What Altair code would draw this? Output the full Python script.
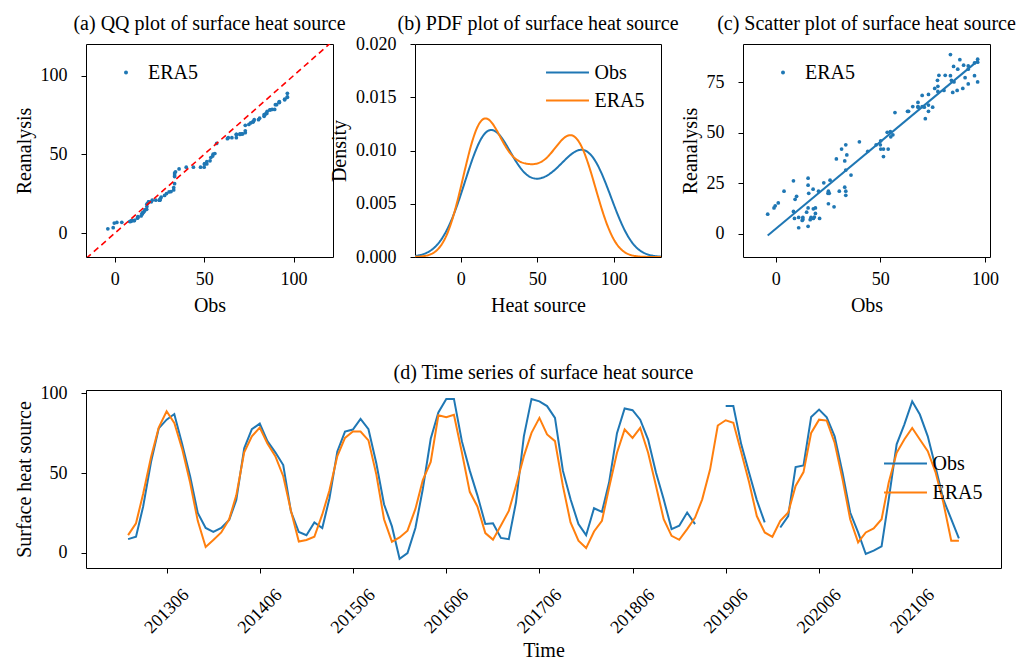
import altair as alt
import numpy as np
import pandas as pd

FONT = "Liberation Serif"
BLUE = "#1f77b4"
ORANGE = "#ff7f0e"
SERIES = ["Obs", "ERA5"]
COLORS = [BLUE, ORANGE]

START_MONTH = "2013-01-01"
OBS = [8.5, 10, 29, 57, 78, 83.5, 87, 68, 48, 25, 15.5, 13,
       15.5, 20.5, 33, 65.5, 77.5, 81, 70, 63, 55, 26, 13, 11,
       19, 15.5, 34, 63.5, 76, 77.3, 84, 77.5, 56, 30.4, 16.5, -3.8,
       -0.2, 15.5, 40, 71.5, 88, 96.5, 96.5, 70, 51.5, 36, 18, 18.5,
       9.3, 8.5, 31.5, 73, 96.5, 95, 92, 84.6, 51.5, 33.5, 18, 11,
       27.9, 25.6, 44, 75, 90.5, 89.4, 83.5, 71, 50.2, 33.5, 14.8, 16.9,
       25.2, 17.9, None, None, None, 92, 92, 68, 50, 33, 19, None,
       15.8, 23, 53.75, 54.8, 85.2, 89.8, 85, 73, 50.2, 25.2, 12.7, -0.8,
       1.25, 4, 33.5, 68, 80.4, 95, 86.7, 73, 53.3, 33.5, 21, 9]
ERA5 = [11, 18.5, 37, 60, 78.5, 88.75, 81.5, 65, 44, 20, 3.6, 8,
        12.7, 21, 36, 63, 73, 78.5, 68.5, 60.6, 48, 26.5, 7, 8,
        10, 24, 39, 60.6, 72, 76, 76, 70.5, 49, 21, 6.9, 9.6,
        13.8, 27.5, 45.5, 57, 86.2, 85, 86.5, 63, 38.2, 29, 12.3, 8.2,
        17, 26.2, 41.9, 60.6, 75.2, 84.6, 74.2, 70, 41.9, 19, 7.5, 2.9,
        13.3, 20, 40.8, 62.7, 77.3, 72, 78.3, 62.7, 41.9, 21, 10.6, 8.1,
        14.8, 22, 33.5, 52.3, 79.8, 83.1, 81.5, 63, 44, 23, 12.7, 10,
        20, 25.2, 41.9, 50.6, 75.2, 83.5, 82.9, 69, 46, 21, 6.5, 12.7,
        15.2, 21, 44, 62.7, 71, 78.3, 71, 63.75, 50.2, 31.5, 7.5, 7.5]
TICK_YEARS = list(range(2013, 2022))
DIAG_ENDS = [-20, 125]

# ---- derived tables ----
dates = pd.date_range(START_MONTH, periods=len(OBS), freq="MS")
ts = pd.DataFrame({"date": dates,
                   "Obs": pd.to_numeric(pd.Series(OBS), errors="coerce"),
                   "ERA5": pd.to_numeric(pd.Series(ERA5), errors="coerce")})
long = ts.melt("date", var_name="series", value_name="value")
pairs = ts.dropna().rename(columns={"Obs": "obs", "ERA5": "rea"})
pairs["series"] = "ERA5"
qq = pd.DataFrame({"obs_q": np.sort(pairs["obs"].values),
                   "rea_q": np.sort(pairs["rea"].values),
                   "series": "ERA5"})
diag = pd.DataFrame({"v": DIAG_ENDS})


def point_legend():
    return alt.Legend(orient="none", legendX=30, legendY=18.5, title=None,
                      symbolType="circle", symbolSize=16, labelOffset=12,
                      symbolStrokeWidth=0, padding=0)


def line_legend(x, y, rowpad):
    return alt.Legend(orient="none", legendX=x, legendY=y, title=None,
                      symbolType="M-3,0H3", symbolSize=205, symbolStrokeWidth=2,
                      labelOffset=17, rowPadding=rowpad, padding=0)


def ptitle(text, off):
    return alt.TitleParams(text, baseline="alphabetic", offset=off)


# ---- (a) QQ plot ----
qa = alt.Chart(qq).mark_circle(size=14, opacity=1).encode(
    x=alt.X("obs_q:Q", title="Obs",
            scale=alt.Scale(domain=[-16, 122], nice=False, zero=False),
            axis=alt.Axis(values=[0, 50, 100])),
    y=alt.Y("rea_q:Q", title="Reanalysis",
            scale=alt.Scale(domain=[-15, 120], nice=False, zero=False),
            axis=alt.Axis(values=[0, 50, 100])),
    color=alt.Color("series:N", scale=alt.Scale(domain=["ERA5"], range=[BLUE]),
                    legend=point_legend()),
)
qd = alt.Chart(diag).mark_line(color="red", strokeDash=[6, 4], strokeWidth=1.6,
                               clip=True).encode(x="v:Q", y="v:Q")
panel_a = alt.layer(qa, qd).properties(
    width=247, height=213, title=ptitle("(a) QQ plot of surface heat source", -6))

# ---- (b) PDF plot ----
dens_layers = []
for i, s in enumerate(SERIES):
    vals = ts[s].dropna().values
    bw = float(np.std(vals, ddof=1) * len(vals) ** (-0.2))
    enc = dict(
        x=alt.X("value:Q", title="Heat source",
                scale=alt.Scale(domain=[-30, 131], nice=False, zero=False),
                axis=alt.Axis(values=[0, 50, 100])),
        y=alt.Y("density:Q", title="Density",
                scale=alt.Scale(domain=[0, 0.02], nice=False),
                axis=alt.Axis(values=[0, 0.005, 0.01, 0.015, 0.02], format=".3f")),
        color=alt.Color("series:N", scale=alt.Scale(domain=SERIES, range=COLORS),
                        legend=line_legend(142.5, 18.5, 8)),
    )
    layer = alt.Chart(long).transform_filter(
        f"datum.series == '{s}' && isValid(datum.value)"
    ).transform_density(
        "value", groupby=["series"], as_=["value", "density"],
        bandwidth=bw, extent=[-30, 131], steps=300
    ).mark_line(strokeWidth=2, clip=True).encode(**enc)
    dens_layers.append(layer)
panel_b = alt.layer(*dens_layers).properties(
    width=246, height=213, title=ptitle("(b) PDF plot of surface heat source", -15))

# ---- (c) Scatter plot ----
sx = alt.X("obs:Q", title="Obs",
           scale=alt.Scale(domain=[-15.6, 102.4], nice=False, zero=False),
           axis=alt.Axis(values=[0, 50, 100]))
sy = alt.Y("rea:Q", title="Reanalysis",
           scale=alt.Scale(domain=[-11.6, 94], nice=False, zero=False),
           axis=alt.Axis(values=[0, 25, 50, 75]))
sc = alt.Chart(pairs).mark_circle(size=14, opacity=1).encode(
    x=sx, y=sy,
    color=alt.Color("series:N", scale=alt.Scale(domain=["ERA5"], range=[BLUE]),
                    legend=point_legend()),
)
reg = alt.Chart(pairs).transform_regression("obs", "rea").mark_line(
    color=BLUE, strokeWidth=2).encode(x="obs:Q", y="rea:Q")
panel_c = alt.layer(sc, reg).properties(
    width=247, height=213, title=ptitle("(c) Scatter plot of surface heat source", -6))

# ---- (d) Time series ----
panel_d = alt.Chart(long).mark_line(
    strokeWidth=2, invalid="break-paths-show-domains").encode(
    x=alt.X("date:T", title="Time",
            scale=alt.Scale(domain=[alt.DateTime(year=2012, month=7, date=20),
                                    alt.DateTime(year=2022, month=5, date=15)]),
            axis=alt.Axis(values=[alt.DateTime(year=y, month=6, date=1) for y in TICK_YEARS],
                          labelExpr="timeFormat(datum.value, '%Y%m')",
                          labelAngle=-45, labelAlign="center", labelBaseline="middle",
                          labelPadding=38, titlePadding=4)),
    y=alt.Y("value:Q", title="Surface heat source",
            scale=alt.Scale(domain=[-9.6, 102.1], nice=False, zero=False),
            axis=alt.Axis(values=[0, 50, 100])),
    color=alt.Color("series:N", scale=alt.Scale(domain=SERIES, range=COLORS),
                    sort=SERIES, legend=line_legend(809.5, 63.5, 9)),
).properties(width=915, height=178,
             title=ptitle("(d) Time series of surface heat source", -15))

top = alt.hconcat(panel_a, panel_b, panel_c, spacing=82, bounds="flush").resolve_scale(
    color="independent").resolve_legend(color="independent")
chart = alt.vconcat(top, panel_d, spacing=346, bounds="flush").resolve_scale(
    color="independent").resolve_legend(color="independent").properties(
    padding={"left": 5, "top": 5, "right": 5, "bottom": 0}
).configure_view(
    stroke="black", strokeWidth=1
).configure_axis(
    labelFont=FONT, titleFont=FONT, labelFontSize=18, titleFontSize=20,
    labelColor="black", titleColor="black", tickColor="black", tickSize=5,
    tickWidth=1, domain=False, grid=False, titleFontWeight="normal",
).configure_axisX(
    labelPadding=8, titlePadding=7
).configure_axisY(
    labelPadding=14, titlePadding=6
).configure_title(
    font=FONT, fontSize=20, fontWeight="normal", color="black"
).configure_legend(
    labelFont=FONT, labelFontSize=20, labelColor="black"
)

chart.save("out.html", embed_options={"renderer": "svg", "actions": False})
